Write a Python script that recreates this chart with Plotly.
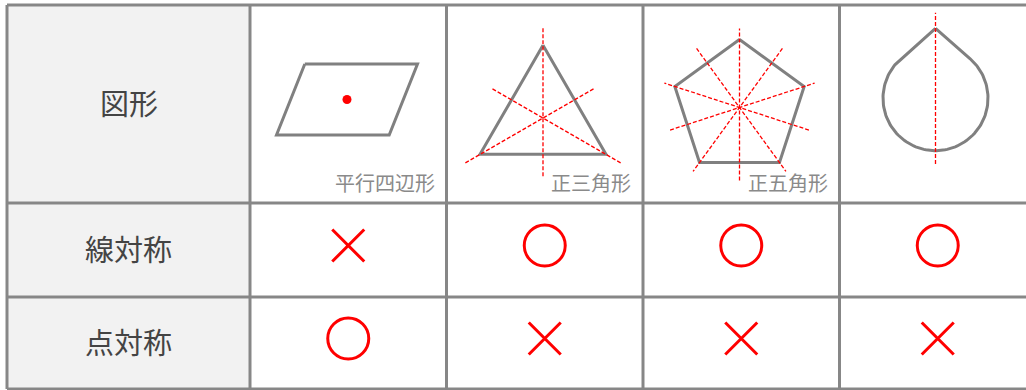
import numpy as np
import plotly.graph_objects as go

FONT_FAMILY = "'Noto Sans CJK JP', 'Noto Sans', sans-serif"
GRID = '#878787'
HEAD_BG = '#f2f2f2'
OUTLINE = '#808080'
RED = '#ff0000'
TEXT = '#444444'
LABEL = '#8a8a8a'

# table content
row_labels = ['図形', '線対称', '点対称']
shape_names = ['平行四辺形', '正三角形', '正五角形', '']
line_symmetric = [False, True, True, True]
point_symmetric = [True, False, False, False]

W, H = 1026, 390
COL_EDGES = [7, 250, 446.5, 643, 839.5, 1036]
ROW_EDGES = [5, 203, 297, 389]

col_mid = [(a + b) / 2 for a, b in zip(COL_EDGES[1:-1], COL_EDGES[2:])]
row_mid = [(a + b) / 2 for a, b in zip(ROW_EDGES[:-1], ROW_EDGES[1:])]

fig = go.Figure()


def outline(xs, ys):
    fig.add_trace(go.Scatter(x=xs, y=ys, mode='lines', hoverinfo='skip',
                             line=dict(color=OUTLINE, width=3)))


def axis_line(cx, cy, ang, back, fwd):
    dx, dy = np.cos(ang), -np.sin(ang)
    fig.add_trace(go.Scatter(x=[cx - back * dx, cx + fwd * dx], y=[cy - back * dy, cy + fwd * dy],
                             mode='lines', hoverinfo='skip',
                             line=dict(color=RED, width=1.3, dash='4px,2px')))


def regular_polygon(cx, cy, n, r, ext_v, ext_e):
    ang = np.pi / 2 + 2 * np.pi * np.arange(n + 1) / n
    outline(cx + r * np.cos(ang), cy - r * np.sin(ang))
    apothem = r * np.cos(np.pi / n)
    for k in range(n):
        a = np.pi / 2 + 2 * np.pi * k / n
        axis_line(cx, cy, a, apothem + ext_e, r + ext_v)


# parallelogram + centre point
px_, py_, pw, ph, skew = 347, 99.5, 112.7, 71, 28.3
outline([px_ - pw / 2 + skew / 2, px_ + pw / 2 + skew / 2, px_ + pw / 2 - skew / 2,
         px_ - pw / 2 - skew / 2, px_ - pw / 2 + skew / 2],
        [py_ - ph / 2, py_ - ph / 2, py_ + ph / 2, py_ + ph / 2, py_ - ph / 2])
fig.add_trace(go.Scatter(x=[px_], y=[py_], mode='markers', hoverinfo='skip',
                         marker=dict(color=RED, size=9)))

# equilateral triangle and regular pentagon with their axes
regular_polygon(543, 118, 3, 72.7, 18, 22)
regular_polygon(739.5, 107.5, 5, 68, 11, 18)

# drop shape
dcx, dcy, dr, apex_y = 935.5, 98.2, 52.5, 28.3
phi = np.arccos(dr / (dcy - apex_y))
t = np.linspace(np.pi / 2 + phi, 2.5 * np.pi - phi, 120)
outline(np.concatenate([[dcx], dcx + dr * np.cos(t), [dcx]]),
        np.concatenate([[apex_y], dcy - dr * np.sin(t), [apex_y]]))
axis_line(dcx, dcy, np.pi / 2, 164 - dcy, dcy - 12.7)

# symmetry marks
for flags, yc in [(line_symmetric, row_mid[1] - 4.5), (point_symmetric, row_mid[2] - 4.5)]:
    for ok, xc in zip(flags, col_mid):
        fig.add_trace(go.Scatter(
            x=[xc], y=[yc], mode='markers', hoverinfo='skip',
            marker=dict(symbol='circle-open' if ok else 'x-thin-open',
                        size=41 if ok else 32, color=RED,
                        line=dict(color=RED, width=3))))

# header column text
for lab, yc in zip(row_labels, row_mid):
    fig.add_annotation(x=(COL_EDGES[0] + COL_EDGES[1]) / 2, y=yc - 2, text=lab, showarrow=False,
                       font=dict(size=29, color=TEXT))
for name, right in zip(shape_names, COL_EDGES[2:]):
    if name:
        fig.add_annotation(x=right - 10, y=182, text=name, showarrow=False, xanchor='right',
                           font=dict(size=20, color=LABEL))

shapes = [dict(type='rect', layer='below', x0=COL_EDGES[0], x1=COL_EDGES[1],
               y0=ROW_EDGES[0], y1=ROW_EDGES[-1], fillcolor=HEAD_BG, line_width=0)]
for x in COL_EDGES[:-1]:
    shapes.append(dict(type='line', x0=x, x1=x, y0=ROW_EDGES[0], y1=ROW_EDGES[-1],
                       line=dict(color=GRID, width=3)))
for y in ROW_EDGES:
    shapes.append(dict(type='line', x0=COL_EDGES[0], x1=COL_EDGES[-1], y0=y, y1=y,
                       line=dict(color=GRID, width=3)))

fig.update_layout(
    width=W, height=H, margin=dict(l=0, r=0, t=0, b=0),
    paper_bgcolor='white', plot_bgcolor='white', showlegend=False,
    font=dict(family=FONT_FAMILY, color=TEXT), shapes=shapes,
    xaxis=dict(range=[0, W], visible=False, fixedrange=True),
    yaxis=dict(range=[H, 0], visible=False, fixedrange=True),
)
fig.write_html('out.html', config={'displayModeBar': False},
               post_script="document.body.style.margin='0';")
